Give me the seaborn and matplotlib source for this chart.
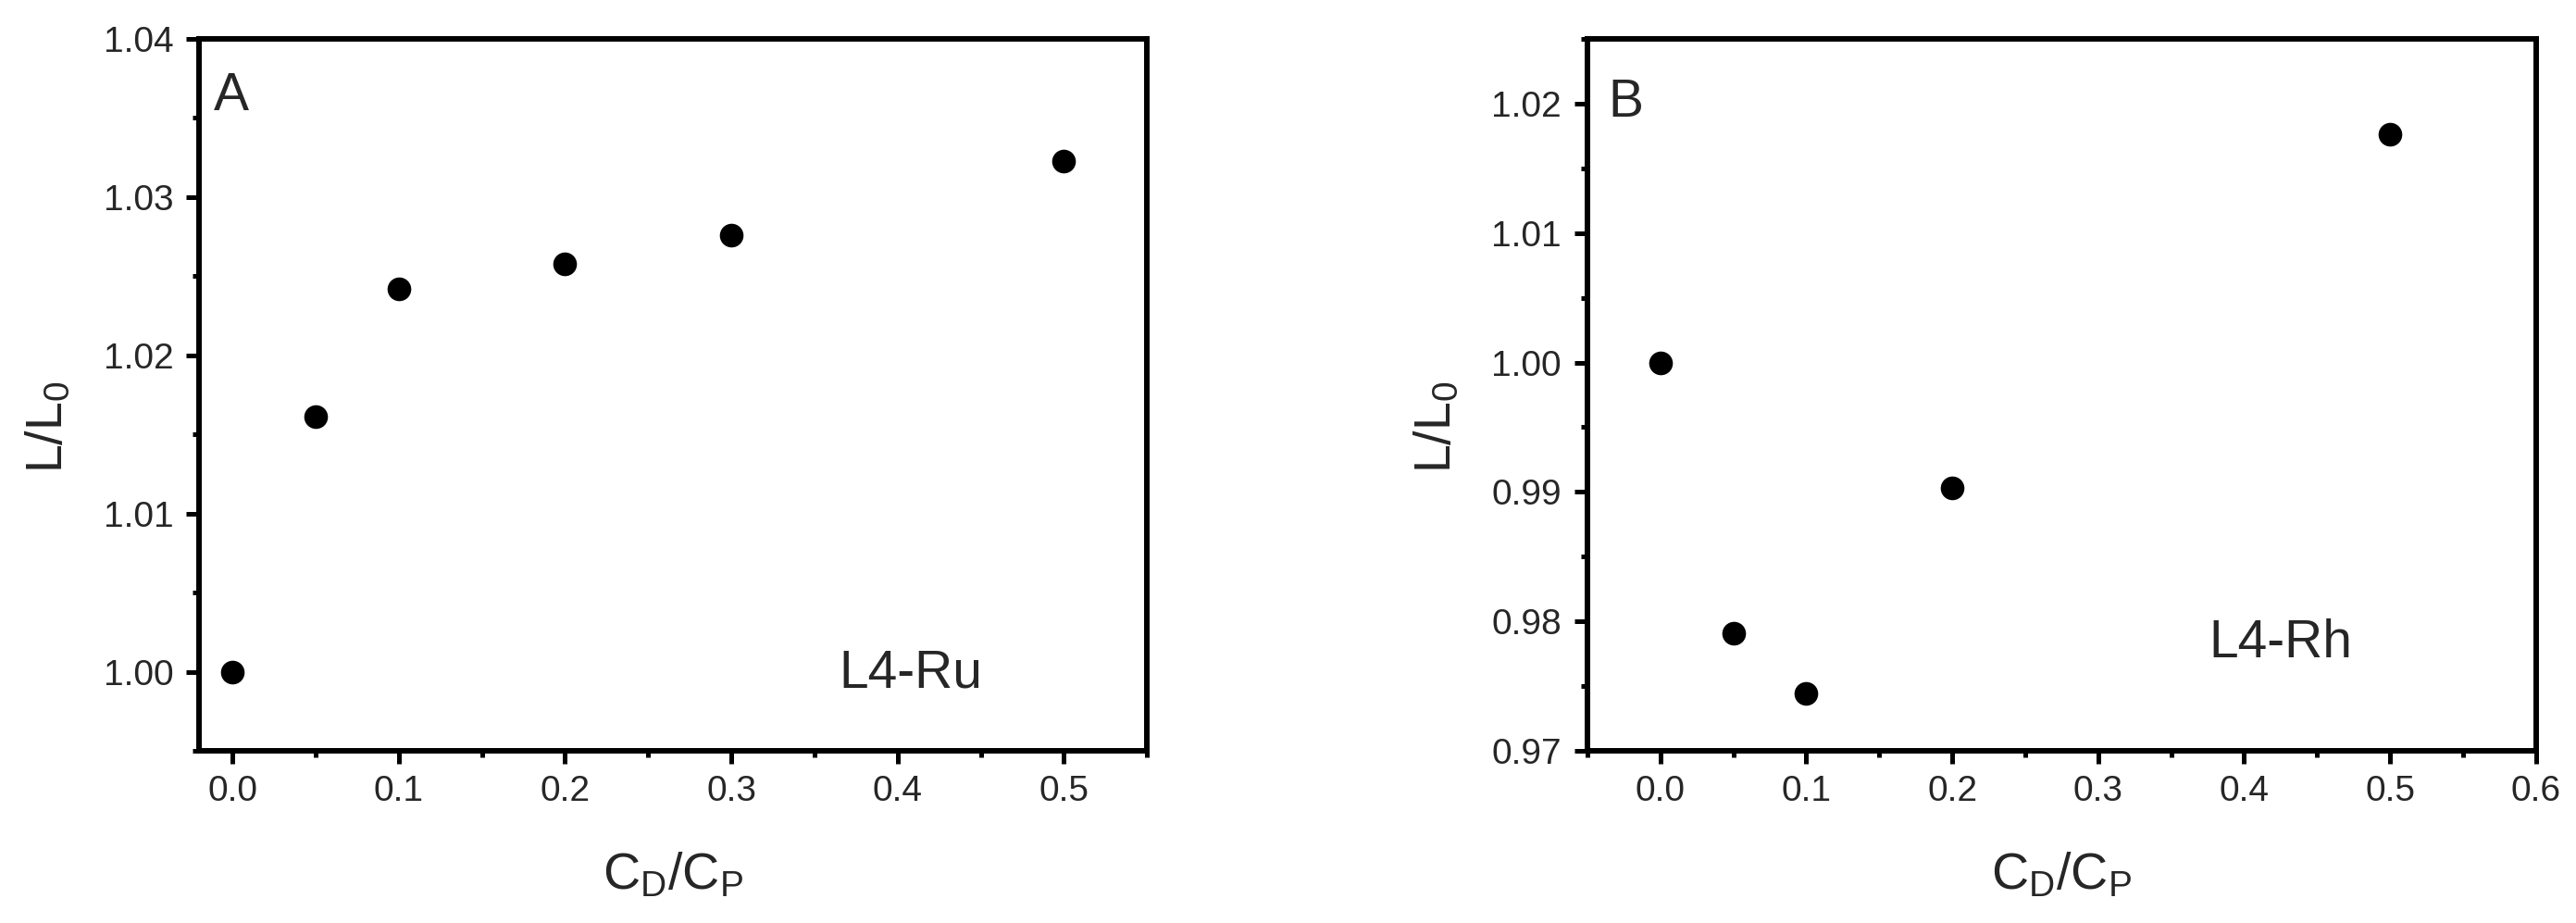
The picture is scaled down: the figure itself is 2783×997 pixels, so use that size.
"""Relative length L/L0 versus C_D/C_P for L4-Ru and L4-Rh."""

import matplotlib

matplotlib.use("Agg")
import matplotlib.pyplot as plt
import pandas as pd
import seaborn as sns
from matplotlib.ticker import FormatStrFormatter, MultipleLocator

# panel A: L4-Ru
ratio_ru = [0.0, 0.05, 0.1, 0.2, 0.3, 0.5]
length_ru = [1.0000, 1.0161, 1.0242, 1.02575, 1.0276, 1.0323]

# panel B: L4-Rh
ratio_rh = [0.0, 0.05, 0.1, 0.2, 0.5]
length_rh = [1.0000, 0.9791, 0.9744, 0.9903, 1.0176]

x_label = r"$\mathregular{C_D/C_P}$"
y_label = r"$\mathregular{L/L_0}$"

sns.set_theme(style="ticks")
plt.rcParams["font.family"] = ["Liberation Sans", "DejaVu Sans"]
plt.rcParams["mathtext.fontset"] = "custom"
plt.rcParams["mathtext.rm"] = "Liberation Sans"
plt.rcParams["mathtext.it"] = "Liberation Sans"

TICK_SIZE = 28
LABEL_SIZE = 40
NOTE_SIZE = 41


def draw_panel(ax, ratio, length, xlim, ylim, letter, letter_xy, tag, tag_xy):
    data = pd.DataFrame({"ratio": ratio, "length": length})
    sns.scatterplot(data, x="ratio", y="length", ax=ax, color="black",
                    s=340, linewidth=0, legend=False)
    ax.set_xlim(*xlim)
    ax.set_ylim(*ylim)

    ax.xaxis.set_major_locator(MultipleLocator(0.1))
    ax.xaxis.set_minor_locator(MultipleLocator(0.05))
    ax.yaxis.set_major_locator(MultipleLocator(0.01))
    ax.yaxis.set_minor_locator(MultipleLocator(0.005))
    ax.xaxis.set_major_formatter(FormatStrFormatter("%.1f"))
    ax.yaxis.set_major_formatter(FormatStrFormatter("%.2f"))

    for side in ax.spines.values():
        side.set_visible(True)
        side.set_linewidth(4.3)
        side.set_color("black")
    ax.tick_params(axis="both", which="both", direction="out", color="black",
                   width=3.6, top=False, right=False)
    ax.tick_params(axis="both", which="major", length=10, labelsize=TICK_SIZE)
    ax.tick_params(axis="both", which="minor", length=5)
    ax.tick_params(axis="x", which="major", pad=9)
    ax.tick_params(axis="y", which="major", pad=10)

    ax.set_xlabel(x_label, fontsize=LABEL_SIZE, va="center")
    ax.set_ylabel(y_label, fontsize=LABEL_SIZE, va="center", ha="center")
    ax.xaxis.set_label_coords(0.5, -0.175)
    ax.yaxis.set_label_coords(-0.158, 0.455)

    ax.text(*letter_xy, letter, fontsize=NOTE_SIZE, ha="left", va="baseline")
    ax.text(*tag_xy, tag, fontsize=NOTE_SIZE, ha="left", va="baseline")


fig = plt.figure(figsize=(27.83, 9.97), dpi=100)
ax_a = fig.add_axes([0.0773, 0.1866, 0.3680, 0.7713])
ax_b = fig.add_axes([0.6162, 0.1866, 0.3683, 0.7713])

draw_panel(ax_a, ratio_ru, length_ru, (-0.02, 0.55), (0.995, 1.04),
           "A", (-0.011, 1.0355), "L4-Ru", (0.365, 0.9990))
draw_panel(ax_b, ratio_rh, length_rh, (-0.05, 0.6), (0.97, 1.025),
           "B", (-0.036, 1.0190), "L4-Rh", (0.376, 0.9772))

fig.savefig("out.png", dpi=100, facecolor="white")
plt.close(fig)
